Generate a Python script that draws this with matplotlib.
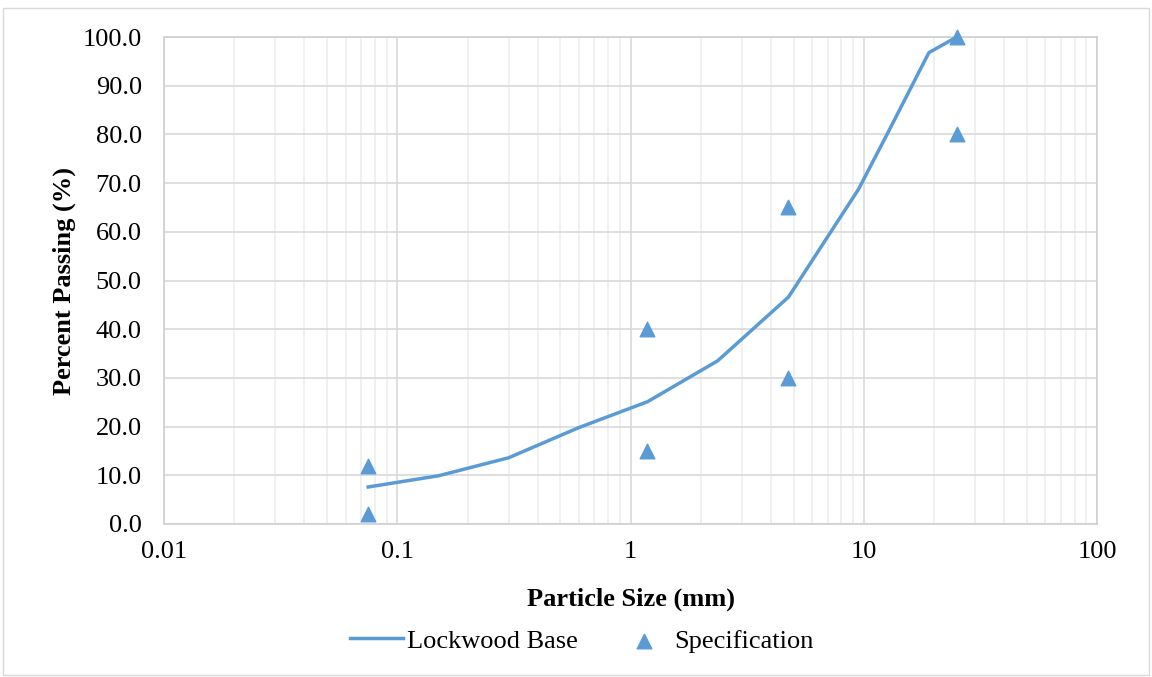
import matplotlib.pyplot as plt
from matplotlib.ticker import LogLocator, FixedLocator, FuncFormatter
import numpy as np

plt.rcParams['font.family'] = ['Liberation Serif', 'DejaVu Serif']

# gradation of the base material
sizes = [0.075, 0.15, 0.3, 0.6, 1.18, 2.36, 4.75, 9.5, 12.5, 19, 25]
passing = [7.6, 9.9, 13.6, 19.8, 25.1, 33.5, 46.6, 68.8, 79.8, 96.8, 100.0]

# specification band limits
spec_x = [0.075, 0.075, 1.18, 1.18, 4.75, 4.75, 25, 25]
spec_y = [2, 12, 15, 40, 30, 65, 80, 100]

blue = '#5b9bd5'

fig = plt.figure(figsize=(11.52, 6.77), dpi=100)
ax = fig.add_axes([0.1424, 0.226, 0.81, 0.7193])

ax.plot(sizes, passing, color=blue, lw=2.5, label='Lockwood Base', zorder=3)
ax.scatter(spec_x, spec_y, marker='^', s=110, color=blue, label='Specification',
           zorder=4, clip_on=False)

ax.set_xscale('log')
ax.set_xlim(0.01, 100)
ax.set_ylim(0, 100)
ax.set_yticks(np.arange(0, 101, 10))
ax.yaxis.set_major_formatter(FuncFormatter(lambda v, p: f'{v:.1f}'))
ax.xaxis.set_major_locator(FixedLocator([0.01, 0.1, 1, 10, 100]))
ax.xaxis.set_major_formatter(FuncFormatter(lambda v, p: f'{v:g}'))
ax.xaxis.set_minor_locator(LogLocator(base=10, subs=np.arange(2, 10)))

ax.grid(True, which='major', color='#d9d9d9', lw=1.2)
ax.grid(True, which='minor', axis='x', color='#ededed', lw=1.2)
ax.set_axisbelow(True)
ax.tick_params(which='both', length=0, labelsize=19)
ax.tick_params(axis='y', pad=16)
ax.tick_params(axis='x', pad=12)
for s in ax.spines.values():
    s.set_color('#d0d0d0')
    s.set_linewidth(1.2)

ax.set_xlabel('Particle Size (mm)', fontsize=19, fontweight='bold', labelpad=18)
ax.set_ylabel('Percent Passing (%)', fontsize=19, fontweight='bold', labelpad=5)

ax.legend(loc='center', bbox_to_anchor=(0.448, -0.24), ncol=2, frameon=False,
          fontsize=19, handlelength=2.0, handletextpad=0.15, columnspacing=1.5)

fig.patches.append(plt.Rectangle((0.003, 0.003), 0.994, 0.985, transform=fig.transFigure,
                                 fill=False, edgecolor='#d9d9d9', lw=1))

fig.savefig('out.png', dpi=100)
